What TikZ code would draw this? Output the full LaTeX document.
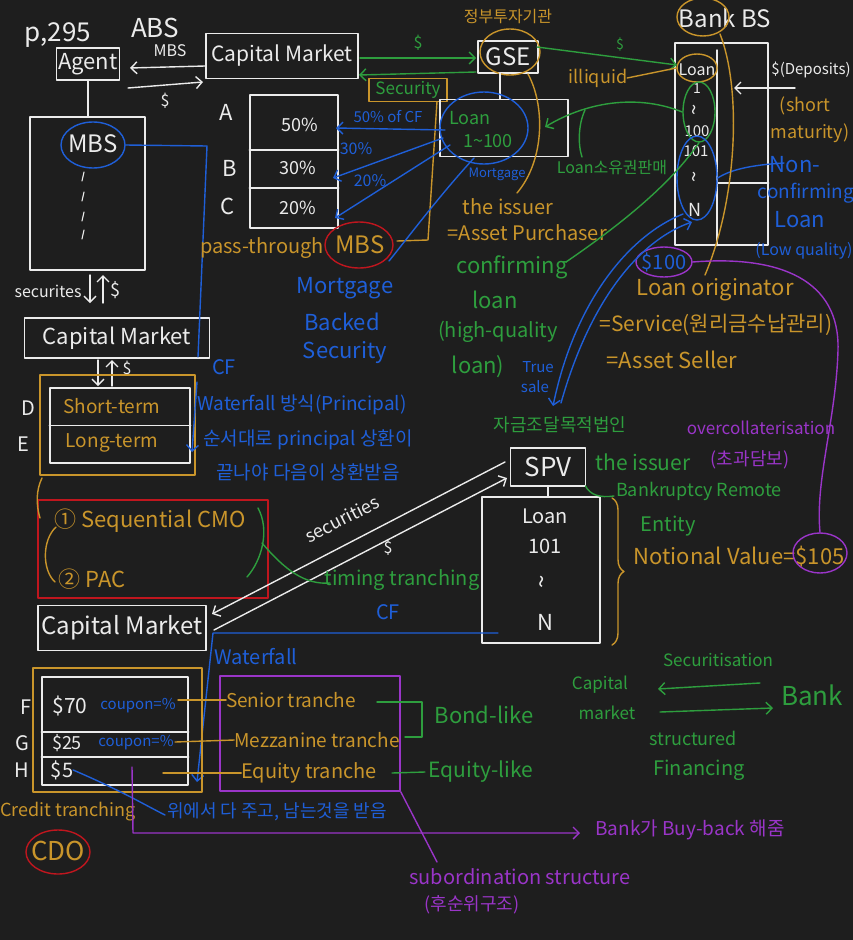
\documentclass[tikz,border=0pt]{standalone}
\usepackage{fontspec}
\setmainfont{Noto Sans CJK KR}
\usetikzlibrary{arrows.meta,shapes.geometric,decorations.pathreplacing,calc}
\definecolor{bg}{HTML}{1E1E1E}
\definecolor{wh}{HTML}{EBEBEB}
\definecolor{gd}{HTML}{C9952B}
\definecolor{gr}{HTML}{2E9E3E}
\definecolor{bl}{HTML}{1F5FD8}
\definecolor{rd}{HTML}{C0161E}
\definecolor{pu}{HTML}{9A35C8}
\newcommand{\tl}{\textasciitilde}
\begin{document}
\begin{tikzpicture}[x=1pt,y=-1pt,line width=1.4pt,line cap=round,line join=round,
  T/.style={inner sep=0pt,outer sep=0pt,font=\fontsize{#1pt}{#1pt}\selectfont},
  W/.style={text=wh},G/.style={text=gd},N/.style={text=gr},B/.style={text=bl},P/.style={text=pu},
  box/.style={draw=#1,rectangle,inner sep=0pt},
  ell/.style={draw=#1,ellipse,inner sep=0pt},
  barb/.style={-{Straight Barb[length=6pt,width=12pt]}}]
\useasboundingbox (0,0) rectangle (853,940);
\fill[bg] (0,0) rectangle (853,940);

% ---------- top left : ABS ----------
\node[T=26,W] (p295) at (58,35) {p,295};
\node[T=26,W] (abs) at (155,28) {ABS};
\node[box=wh,W,T=22,minimum width=63pt,minimum height=32pt] (agent) at (88,64) {Agent};
\node[box=wh,W,T=21,minimum width=152pt,minimum height=45pt] (cm1) at (282,56) {Capital Market};
\coordinate (a1s) at (205,66); \coordinate (a1e) at (130,68);
\draw[wh,barb] (a1s) -- (a1e);
\node[T=16,W] (lmbs) at (170,51) {MBS};
\coordinate (a2s) at (128,88); \coordinate (a2e) at (203,82);
\draw[wh,barb] (a2s) -- (a2e);
\node[T=16,W] (ld1) at (165,101) {\$};

\node[box=wh,minimum width=115pt,minimum height=153pt] (mbsbox) at (87.5,193.5) {};
\draw[wh] (agent.south) -- (agent.south |- mbsbox.north);
\node[T=24,W] (mbs1) at (93,144) {MBS};
\node[ell=bl,minimum width=64pt,minimum height=46pt] (mbs1e) at (93,145) {};
\foreach \y in {172,192,212,230}{\draw[wh,line width=1.1pt] (84,\y) -- (82,\y+9);}

\node[T=16,W] (secs) at (48,291) {securites};
\coordinate (s1a) at (90,275); \coordinate (s1b) at (90,303);
\coordinate (s2a) at (103,303); \coordinate (s2b) at (103,275);
\draw[wh,barb] (s1a) -- (s1b);
\draw[wh,barb] (s2a) -- (s2b);
\node[T=18,W] (ld2) at (115,290) {\$};

\node[box=wh,W,T=22,minimum width=185pt,minimum height=40pt] (cm2) at (117,338) {Capital Market};
\coordinate (s3a) at (98,360); \coordinate (s3b) at (98,386);
\coordinate (s4a) at (112,386); \coordinate (s4b) at (112,360);
\draw[wh,barb] (s3a) -- (s3b);
\draw[wh,barb] (s4a) -- (s4b);
\node[T=16,W] (ld3) at (127,369) {\$};

\node[box=gd,minimum width=155pt,minimum height=100pt] (degold) at (117.5,425) {};
\node[box=wh,minimum width=140pt,minimum height=75pt] (dewh) at (120,425.5) {};
\draw[wh] (dewh.west) -- (dewh.east);
\node[T=20,W] (ld) at (28,408) {D};
\node[T=20,W] (le) at (23,444) {E};
\node[T=19,G] (st) at (112,406) {Short-term};
\node[T=19,G] (lt) at (112,443) {Long-term};

% blue CF from MBS
\coordinate (bc1) at (207,146); \coordinate (bc2) at (198,357);
\draw[bl] (mbs1e.east) -- (bc1) -- (bc2);
\node[T=20,B] (cf1) at (224,367) {CF};
\coordinate (bw1) at (197,382); \coordinate (bw2) at (192,452);
\draw[bl,barb] (bw1) -- (bw2);
\node[T=19,B] (wf1) at (302,405) {Waterfall 방식(Principal)};
\node[T=19,B] (wf2) at (308,440) {순서대로 principal 상환이};
\node[T=19,B] (wf3) at (308,472) {끝나야 다음이 상환받음};

% CMO
\node[box=rd,minimum width=230pt,minimum height=98pt] (redbox) at (153,549) {};
\node[T=22,G] (cmo) at (150,521) {① Sequential CMO};
\node[T=22,G] (pac) at (92,579) {② PAC};
\coordinate (gc1) at (42,478); \coordinate (gc2) at (40,518);
\draw[gd] (gc1) .. controls (36,490) and (36,505) .. (gc2);
\coordinate (gc3) at (56,527); \coordinate (gc4) at (55,582);
\draw[gd] (gc3) .. controls (42,540) and (42,570) .. (gc4);

% ---------- A B C ----------
\node[box=wh,minimum width=88pt,minimum height=133pt] (abc) at (294,161.5) {};
\draw[wh] (abc.west |- 0,150) -- (abc.east |- 0,150);
\draw[wh] (abc.west |- 0,188) -- (abc.east |- 0,188);
\node[T=22,W] (la) at (226,112) {A};
\node[T=22,W] (lb) at (230,168) {B};
\node[T=22,W] (lc) at (228,206) {C};
\node[T=18,W] (p50) at (300,125) {50\%};
\node[T=18,W] (p30) at (298,168) {30\%};
\node[T=18,W] (p20) at (298,208) {20\%};

\node[T=20,G] (pt) at (262,248) {pass-through};
\node[T=24,G] (pmbs) at (360,245) {MBS};
\node[ell=rd,minimum width=68pt,minimum height=46pt] (pmbse) at (359,245) {};
\node[T=22,B] (mo1) at (345,288) {Mortgage};
\node[T=22,B] (mo2) at (342,322) {Backed};
\node[T=22,B] (mo3) at (345,353) {Security};

% ---------- GSE ----------
\node[T=16,G] (kgse) at (508,17) {정부투자기관};
\node[box=wh,W,T=24,minimum width=60pt,minimum height=32pt] (gse) at (508,57) {GSE};
\node[ell=gd,minimum width=60pt,minimum height=46pt] (gsee) at (510,52) {};
\coordinate (g1s) at (360,58); \coordinate (g1e) at (476,58);
\draw[gr,barb] (g1s) -- (g1e);
\node[T=16,N] (gd1) at (418,43) {\$};
\coordinate (g2s) at (476,72); \coordinate (g2e) at (359,75);
\draw[gr,barb] (g2s) -- (g2e);
\node[box=gd,N,T=17,minimum width=78pt,minimum height=23pt] (secb) at (408,90) {Security};
\coordinate (gb1) at (428,240); \coordinate (gb2) at (397,241);
\draw[gd] (secb.south -| 437,0) -- (gb1) -- (gb2);

\node[box=wh,minimum width=128pt,minimum height=57pt] (loanb) at (504,128) {};
\draw[wh] (gse.south -| 500,0) -- (loanb.north -| 500,0);
\node[T=18,N] (ln1) at (470,118) {Loan};
\node[T=18,N] (ln2) at (488,141) {1\tl100};
\node[ell=bl,minimum width=88pt,minimum height=72pt] (loane) at (484,128) {};
\node[T=13,B] (mort) at (497,174) {Mortgage};
\coordinate (b1s) at (445,130); \coordinate (b1e) at (336,128);
\coordinate (b2s) at (443,138); \coordinate (b2e) at (333,178);
\coordinate (b3s) at (450,145); \coordinate (b3e) at (335,218);
\draw[bl,barb] (b1s) -- (b1e);
\draw[bl,barb] (b2s) -- (b2e);
\draw[bl,barb] (b3s) -- (b3e);
\node[T=15,B] (c50) at (388,117) {50\% of CF};
\node[T=16,B] (c30) at (356,149) {30\%};
\node[T=16,B] (c20) at (370,181) {20\%};
\coordinate (bm1) at (474,158); \coordinate (bm2) at (389,261);
\draw[bl] (bm1) .. controls (440,195) and (410,235) .. (bm2);

\coordinate (gi1) at (528,74); \coordinate (gi2) at (517,193);
\draw[gd] (gi1) .. controls (545,105) and (545,160) .. (gi2);
\node[T=20,G] (iss1) at (508,207) {the issuer};
\node[T=20,G] (iss2) at (527,233) {=Asset Purchaser};
\node[T=22,N] (cf1t) at (512,267) {confirming};
\node[T=22,N] (cf2t) at (495,300) {loan};
\node[T=20,N] (cf3t) at (498,332) {(high-quality};
\node[T=22,N] (cf4t) at (478,367) {loan)};

% ---------- Bank BS ----------
\node[T=24,W] (bbs) at (725,18) {Bank BS};
\node[ell=gd,minimum width=52pt,minimum height=38pt] (banke) at (703,17) {};
\node[box=wh,minimum width=93pt,minimum height=202pt] (bankbox) at (721.5,144) {};
\draw[wh] (717,50) -- (bankbox.south -| 717,0);
\draw[wh] (717,183) -- (bankbox.east |- 0,183);
\node[T=16,W] (bl0) at (697,70) {Loan};
\node[T=14,W] (bl1) at (697,89) {1};
\node[T=20,W,rotate=90] (bl2) at (697,110) {\tl};
\node[T=15,W] (bl3) at (697,131) {100};
\node[T=15,W] (bl4) at (696,151) {101};
\node[T=20,W,rotate=90] (bl5) at (697,177) {\tl};
\node[T=18,W] (bl6) at (695,210) {N};
\node[ell=gd,minimum width=40pt,minimum height=28pt] (bloane) at (697,68) {};
\node[ell=gr,minimum width=32pt,minimum height=60pt] (bgre) at (699,112) {};
\node[ell=bl,minimum width=40pt,minimum height=84pt] (bble) at (697,178) {};
\coordinate (gs3) at (537,47); \coordinate (ge3) at (677,65);
\draw[gr,barb] (gs3) -- (ge3);
\node[T=14,N] (gd3) at (620,45) {\$};
\node[T=18,G] (illq) at (598,78) {illiquid};
\draw[gd] (illq.east) -- (bloane.west);
\coordinate (gl1) at (545,127);
\draw[gr,barb] (bgre.west) .. controls (640,95) and (590,100) .. (gl1);
\coordinate (gp1) at (585,110); \coordinate (gp2) at (582,157);
\draw[gr] (gp1) .. controls (578,125) and (578,145) .. (gp2);
\node[T=16,N] (lsale) at (612,168) {Loan소유권판매};
\coordinate (gcf) at (566,262);
\draw[gr] (gcf) .. controls (620,225) and (670,185) .. (bgre.south);

\node[T=15,W] (dep) at (811,70) {\$(Deposits)};
\coordinate (da1) at (795,88); \coordinate (da2) at (734,88);
\draw[wh,barb] (da1) -- (da2);
\node[T=18,G] (sm1) at (805,106) {(short};
\node[T=18,G] (sm2) at (810,133) {maturity)};
\node[T=22,B] (nc1) at (795,165) {Non-};
\node[T=19,B] (nc2) at (806,193) {confirming};
\node[T=22,B] (nc3) at (800,220) {Loan};
\node[T=16,B] (nc4) at (804,251) {(Low quality)};
\coordinate (nce) at (784,163);
\draw[bl] (nce) .. controls (750,165) and (730,170) .. (bble.east);

\coordinate (gbb1) at (720,34); \coordinate (gbb2) at (705,275);
\draw[gd] (gbb1) .. controls (742,90) and (737,200) .. (gbb2);
\node[T=20,B] (d100) at (664,262) {\$100};
\node[ell=pu,minimum width=56pt,minimum height=30pt] (d100e) at (664,262) {};
\node[T=22,G] (lo1) at (715,290) {Loan originator};
\node[T=21,G] (lo2) at (716,325) {=Service(원리금수납관리)};
\node[T=22,G] (lo3) at (672,360) {=Asset Seller};

% ---------- SPV ----------
\node[T=18,N] (kspv) at (560,425) {자금조달목적법인};
\node[box=wh,W,T=26,minimum width=75pt,minimum height=38pt] (spv) at (548,467) {SPV};
\node[box=wh,minimum width=118pt,minimum height=146pt] (spvl) at (541,570) {};
\draw[wh] (spv.south) -- (spvl.north -| spv.south);
\node[T=20,W] (sl1) at (545,516) {Loan};
\node[T=20,W] (sl2) at (545,546) {101};
\node[T=24,W,rotate=90] (sl3) at (545,582) {\tl};
\node[T=22,W] (sl4) at (545,622) {N};
\coordinate (ts1) at (683,214); \coordinate (ts2) at (553,406);
\draw[bl,barb] (ts1) .. controls (630,235) and (575,300) .. (ts2);
\coordinate (ts3) at (561,403); \coordinate (ts4) at (692,222);
\draw[bl,barb] (ts3) .. controls (590,300) and (640,240) .. (ts4);
\node[T=15,B] (true) at (538,367) {True};
\node[T=15,B] (sale) at (535,387) {sale};
\node[T=21,N] (iss3) at (643,462) {the issuer};
\node[T=18,N] (brm) at (699,491) {Bankruptcy Remote};
\node[T=20,N] (ent) at (668,526) {Entity};
\coordinate (gbr) at (614,496);
\draw[gr] (spv.south east) .. controls (590,495) and (600,498) .. (gbr);
\coordinate (br1) at (612,498); \coordinate (br2) at (612,645);
\draw[gd,decorate,decoration={brace,amplitude=12pt}] (br1) -- (br2);
\node[T=22,G] (nv) at (739,557) {Notional Value=\$105};
\node[ell=pu,minimum width=54pt,minimum height=40pt] (d105e) at (820,553) {};
\node[T=17,P] (oc1) at (761,428) {overcollaterisation};
\node[T=18,P] (oc2) at (750,460) {(초과담보)};
\coordinate (pc1) at (838,350);
\draw[pu] (d100e.east) .. controls (780,255) and (840,280) .. (pc1) .. controls (836,420) and (815,480) .. (d105e.north);

% ---------- Capital market 3 and tranches ----------
\node[box=wh,W,T=24,minimum width=168pt,minimum height=45pt] (cm3) at (122,628) {Capital Market};
\coordinate (sp1) at (505,462); \coordinate (sp2) at (212,614);
\draw[wh,barb] (sp1) -- (sp2);
\coordinate (sp3) at (214,630); \coordinate (sp4) at (507,478);
\draw[wh,barb] (sp3) -- (sp4);
\node[T=18,W,rotate=27] (secl) at (342,519) {securities};
\node[T=16,W] (ld4) at (388,548) {\$};
\coordinate (gt1) at (258,508); \coordinate (gt2) at (247,577);
\draw[gr] (gt1) .. controls (270,530) and (262,560) .. (gt2);
\coordinate (gt3) at (262,543); \coordinate (gt4) at (330,583);
\draw[gr] (gt3) .. controls (285,570) and (305,585) .. (gt4);
\node[T=20,N] (tt) at (402,580) {timing tranching};
\node[T=20,B] (cf2) at (388,612) {CF};
\coordinate (wl1) at (498,633); \coordinate (wl2) at (213,633); \coordinate (wl3) at (197,782);
\draw[bl,barb] (wl1) -- (wl2) -- (wl3);
\node[T=20,B] (wfl) at (256,657) {Waterfall};

\node[box=gd,minimum width=169pt,minimum height=124pt] (fgold) at (117.5,730) {};
\node[box=wh,minimum width=146pt,minimum height=108pt] (fwh) at (115,731) {};
\draw[wh] (fwh.west |- 0,732) -- (fwh.east |- 0,732);
\draw[wh] (fwh.west |- 0,757) -- (fwh.east |- 0,757);
\node[T=20,W] (lf) at (26,707) {F};
\node[T=20,W] (lg) at (22,743) {G};
\node[T=20,W] (lh) at (22,770) {H};
\node[T=21,W] (d70) at (70,706) {\$70};
\node[T=18,W] (d25) at (67,743) {\$25};
\node[T=20,W] (d5) at (62,770) {\$5};
\node[T=15,B] (cp1) at (138,706) {coupon=\%};
\node[T=15,B] (cp2) at (136,743) {coupon=\%};

\node[box=pu,minimum width=180pt,minimum height=115pt] (pbox) at (310,733.5) {};
\node[T=19,G] (sen) at (291,700) {Senior tranche};
\node[T=19,G] (mez) at (317,740) {Mezzanine tranche};
\node[T=20,G] (equ) at (309,773) {Equity tranche};
\coordinate (tl1) at (178,700); \coordinate (tl2) at (175,742); \coordinate (tl3) at (163,773);
\draw[gd] (tl1) -- (sen.west);
\draw[gd] (tl2) -- (mez.west);
\draw[gd] (tl3) -- (equ.west);
\coordinate (gk1) at (377,702); \coordinate (gk2) at (422,702); \coordinate (gk3) at (422,737); \coordinate (gk4) at (405,737);
\draw[gr] (gk1) -- (gk2) -- (gk3) -- (gk4);
\node[T=22,N] (bond) at (484,715) {Bond-like};
\node[T=21,N] (eql) at (481,772) {Equity-like};
\coordinate (ge1) at (392,773);
\draw[gr] (ge1) -- ([xshift=-4pt]eql.west);

\node[T=18,G] (ctr) at (68,812) {Credit tranching};
\node[T=26,G] (cdo) at (58,851) {CDO};
\node[ell=rd,minimum width=64pt,minimum height=44pt] (cdoe) at (58,852) {};
\coordinate (bd5) at (165,815);
\draw[bl] (d5.east) .. controls (120,790) and (145,805) .. (bd5);
\node[T=18,B] (wie) at (277,812) {위에서 다 주고, 남는것을 받음};
\coordinate (pv1) at (132,767); \coordinate (pv2) at (133,833); \coordinate (pv3) at (580,833);
\draw[pu,barb] (pv1) -- (pv2) -- (pv3);
\node[T=19,P] (buy) at (690,830) {Bank가 Buy-back 해줌};
\coordinate (ps1) at (437,862);
\draw[pu] (pbox.south east) -- (ps1);
\node[T=20,P] (sub) at (520,877) {subordination structure};
\node[T=18,P] (sub2) at (472,905) {(후순위구조)};

% ---------- bottom right ----------
\node[T=17,N] (capm1) at (600,685) {Capital};
\node[T=17,N] (capm2) at (607,713) {market};
\node[T=17,N] (sect) at (718,660) {Securitisation};
\node[T=26,N] (bankg) at (812,695) {Bank};
\coordinate (sa1) at (760,683); \coordinate (sa2) at (658,689);
\draw[gr,barb] (sa1) -- (sa2);
\coordinate (sa3) at (660,712); \coordinate (sa4) at (773,708);
\draw[gr,barb] (sa3) -- (sa4);
\node[T=18,N] (strf) at (693,738) {structured};
\node[T=20,N] (fin) at (699,770) {Financing};
\end{tikzpicture}
\end{document}
